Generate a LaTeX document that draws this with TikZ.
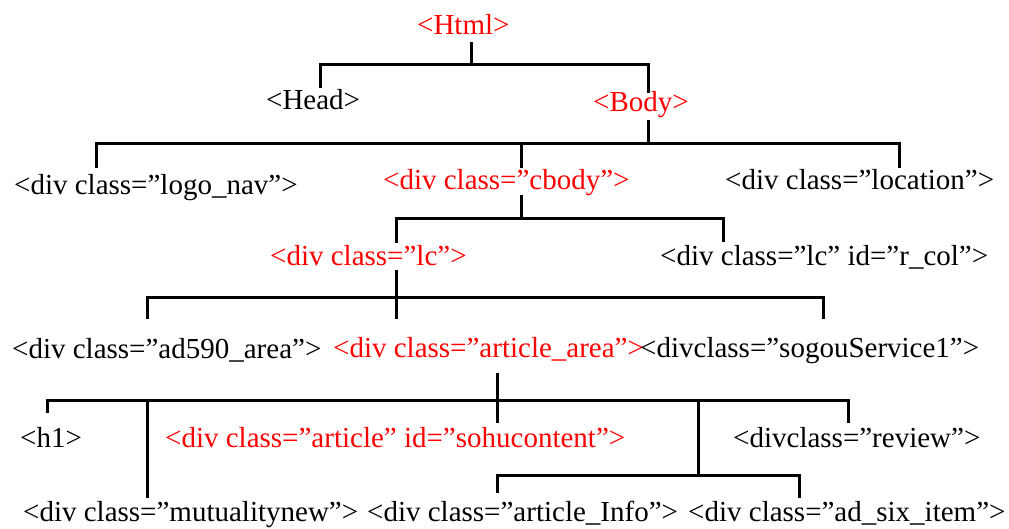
\documentclass[tikz,border=0pt]{standalone}
\usepackage{fontspec}
\setmainfont{Liberation Serif}
\usepackage{tikz}

\tikzset{
	tag/.style={inner sep=0pt, anchor=base west},
	redtag/.style={tag, text=red},
	tree/.style={line width=3pt}
}

\begin{document}
\begin{tikzpicture}[x=1pt, y=1pt, font=\fontsize{29}{30}\selectfont]
	\useasboundingbox (0,0) rectangle (1009,-529);
	% tags
	\node [redtag] (html) at (417,-35) {<Html>};
	\node [tag] (head) at (266,-110) {<Head>};
	\node [redtag] (body) at (593,-112) {<Body>};
	\node [tag] (logonav) at (14,-195) {<div class=”logo\_nav”>};
	\node [redtag] (cbody) at (383,-190) {<div class=”cbody”>};
	\node [tag] (location) at (725,-190) {<div class=”location”>};
	\node [redtag] (lc) at (270,-266) {<div class=”lc”>};
	\node [tag] (rcol) at (660,-266) {<div class=”lc” id=”r\_col”>};
	\node [tag] (adarea) at (12,-358) {<div class=”ad590\_area”>};
	\node [redtag] (artarea) at (333,-357) {<div class=”article\_area”>};
	\node [tag] (sogou) at (640,-357) {<divclass=”sogouService1”>};
	\node [tag] (hone) at (20,-447) {<h1>};
	\node [redtag] (article) at (165,-447) {<div class=”article” id=”sohucontent”>};
	\node [tag] (review) at (733,-447) {<divclass=”review”>};
	\node [tag] (mutual) at (23,-521) {<div class=”mutualitynew”>};
	\node [tag] (artinfo) at (367,-521) {<div class=”article\_Info”>};
	\node [tag] (adsix) at (688,-521) {<div class=”ad\_six\_item”>};

	% Html
	\draw [tree] ([xshift=54pt,yshift=-7pt]html.base west) -- ++(0,-23) coordinate (jhtml);
	\draw [tree] (jhtml) -| ([xshift=54pt,yshift=22pt]head.base west);
	\draw [tree] (jhtml) -| ([xshift=55pt,yshift=19pt]body.base west);
	% Body
	\draw [tree] ([xshift=55pt,yshift=-8pt]body.base west) -- ++(0,-24) coordinate (jbody);
	\draw [tree] (jbody) -| ([xshift=82pt,yshift=27pt]logonav.base west);
	\draw [tree] (jbody) -| ([xshift=138pt,yshift=22pt]cbody.base west);
	\draw [tree] (jbody) -| ([xshift=174pt,yshift=22pt]location.base west);
	% cbody
	\draw [tree] ([xshift=138pt,yshift=-5pt]cbody.base west) -- ++(0,-24) coordinate (jcbody);
	\draw [tree] (jcbody) -| ([xshift=126pt,yshift=23pt]lc.base west);
	\draw [tree] (jcbody) -| ([xshift=63pt,yshift=24pt]rcol.base west);
	% lc
	\draw [tree] ([xshift=126pt,yshift=-4pt]lc.base west) -- ++(0,-28) coordinate (jlc);
	\draw [tree] (jlc) -| ([xshift=135pt,yshift=39pt]adarea.base west);
	\draw [tree] (jlc) -| ([xshift=63pt,yshift=38pt]artarea.base west);
	\draw [tree] (jlc) -| ([xshift=183pt,yshift=38pt]sogou.base west);
	% article_area
	\draw [tree] ([xshift=164pt,yshift=-16pt]artarea.base west) -- ++(0,-27) coordinate (jart);
	\draw [tree] (jart) -| ([xshift=27pt,yshift=34pt]hone.base west);
	\draw [tree] (jart) -| ([xshift=124pt,yshift=23pt]mutual.base west);
	\draw [tree] (jart) -- ([xshift=332pt,yshift=24pt]article.base west);
	\draw [tree] (jart) -| ([xshift=115pt,yshift=24pt]review.base west);
	\draw [tree] ([xshift=201pt]jart) -- ++(0,-75) coordinate (jsohu);
	\draw [tree] (jsohu) -| ([xshift=130pt,yshift=28pt]artinfo.base west);
	\draw [tree] (jsohu) -| ([xshift=111pt,yshift=23pt]adsix.base west);
\end{tikzpicture}
\end{document}
